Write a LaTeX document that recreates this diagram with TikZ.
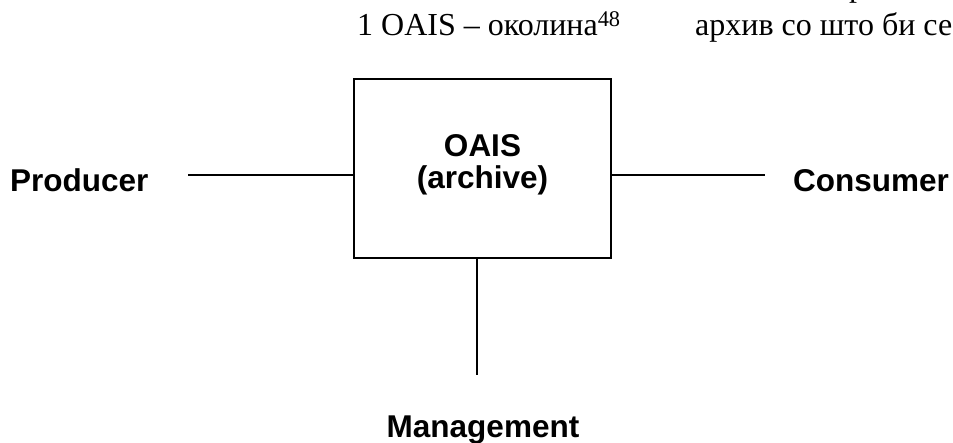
\documentclass[tikz,border=0pt]{standalone}
\usepackage{fontspec}
\setmainfont{Liberation Serif}
\newfontfamily\lsans{Liberation Sans}
\begin{document}
\begin{tikzpicture}[x=1pt,y=-1pt,
  lbl/.style={font=\lsans\bfseries\fontsize{31.5}{34}\selectfont, inner sep=0pt, anchor=base},
  toptext/.style={font=\fontsize{32}{36}\selectfont, inner sep=0pt, anchor=base west},
  wire/.style={line width=2.4pt}]
\useasboundingbox (0,0) rectangle (953,443);
\begin{scope}
\clip (0,0) rectangle (953,443);
\node[toptext] (t0) at (849,-3) {р};
\node[toptext] (t1) at (357,36) {1 OAIS – околина\textsuperscript{48}};
\node[toptext] (t2) at (695,36) {архив со што би се};
\end{scope}
\node[draw, line width=2.4pt, minimum width=257pt, minimum height=179pt, inner sep=0pt] (box) at (482.5,168.5) {};
\node[lbl] (oais) at (482.5,157) {OAIS};
\node[lbl] (arch) at (482.5,189) {(archive)};
\node[lbl, anchor=base west] (prod) at (10,192) {Producer};
\node[lbl, anchor=base east] (cons) at (949,192) {Consumer};
\node[lbl] (mgmt) at (483,437) {Management};
\coordinate (pl) at (188,175);
\coordinate (cr) at (765,175);
\coordinate (mb) at (477,375);
\draw[wire] (pl) -- (pl -| box.west);
\draw[wire] (box.east |- cr) -- (cr);
\draw[wire] (box.south -| mb) -- (mb);
\end{tikzpicture}
\end{document}
